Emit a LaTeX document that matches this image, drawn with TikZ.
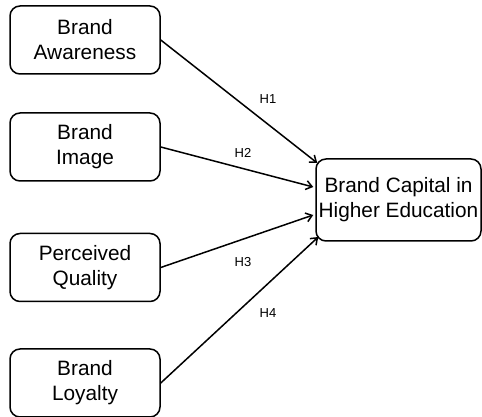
\documentclass[tikz,border=0pt]{standalone}
\usepackage{fontspec}
\setmainfont{Liberation Sans}
\usetikzlibrary{positioning,calc,arrows.meta}

\tikzset{
    construct/.style={draw, line width=1.5pt, rounded corners=10pt, align=center,
        minimum width=150pt, minimum height=68pt, inner sep=2pt,
        font=\fontsize{20.8}{25}\selectfont},
    hyp/.style={draw, line width=1.5pt, -{Straight Barb[length=6pt,width=9pt,line width=1.5pt]}},
    hlabel/.style={font=\fontsize{13}{14}\selectfont, inner sep=0pt}
}

\begin{document}
\begin{tikzpicture}[x=1pt,y=1pt]
    \useasboundingbox (0,0) rectangle (482,417);

    % Constructs
    \node [construct] (aware) at (85,377) {Brand\\Awareness};
    \node [construct] (image) at (85,270) {Brand\\Image};
    \node [construct] (quality) at (85,149.5) {Perceived\\Quality};
    \node [construct] (loyal) at (85,34) {Brand\\Loyalty};
    \node [construct, minimum width=165pt, minimum height=82pt] (capital) at (398.5,217) {Brand Capital in\\Higher Education};

    % Hypotheses
    \draw [hyp] (aware.east) -- ($(capital.west)+(2,37)$);
    \draw [hyp] (image.east) -- ($(capital.west)+(-2,13)$);
    \draw [hyp] (quality.east) -- ($(capital.west)+(-2,-15)$);
    \draw [hyp] (loyal.east) -- ($(capital.west)+(3,-37)$);

    \node [hlabel] (h1) at (268,318) {H1};
    \node [hlabel] (h2) at (243,264) {H2};
    \node [hlabel] (h3) at (243,155) {H3};
    \node [hlabel] (h4) at (268,104) {H4};
\end{tikzpicture}
\end{document}
